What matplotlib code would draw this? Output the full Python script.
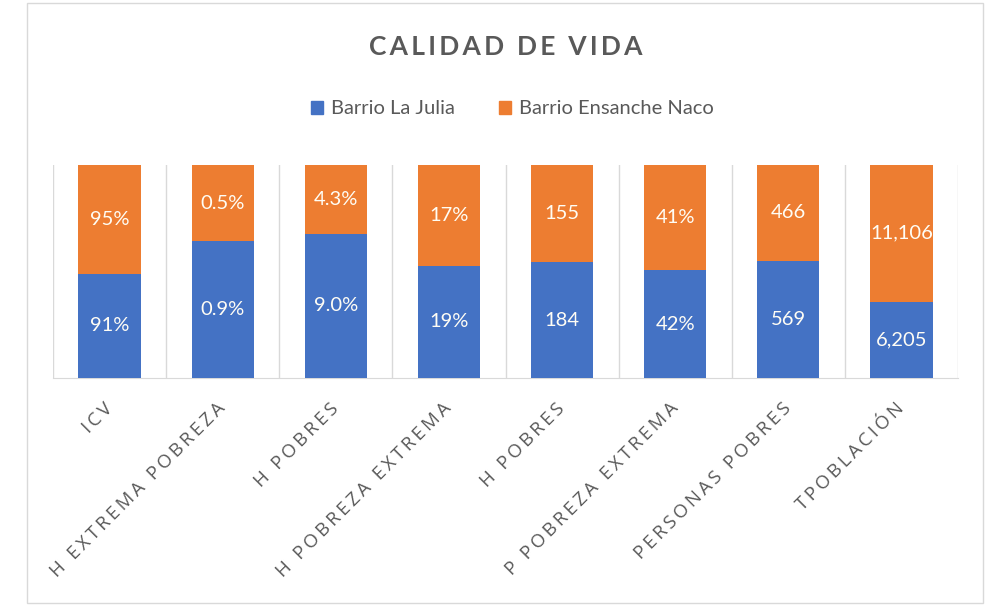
import numpy as np
import matplotlib
matplotlib.use("Agg")
import matplotlib.pyplot as plt
from matplotlib.patches import Rectangle, Patch

# categories and values
categorias = ["ICV", "H EXTREMA POBREZA", "H POBRES", "H POBREZA EXTREMA",
              "H POBRES", "P POBREZA EXTREMA", "PERSONAS POBRES", "TPOBLACIÓN"]
la_julia = [91, 0.9, 9.0, 19, 184, 42, 569, 6205]
ensanche_naco = [95, 0.5, 4.3, 17, 155, 41, 466, 11106]
formatos = ["{:.0f}%", "{:.1f}%", "{:.1f}%", "{:.0f}%", "{:,.0f}", "{:.0f}%", "{:,.0f}", "{:,.0f}"]

azul = "#4472C4"
naranja = "#ED7D31"
gris = "#595959"

plt.rcParams["font.family"] = ["Lato", "DejaVu Sans"]


def espaciado(s, sep="\u2009"):
    # letter spacing like the Excel axis labels
    return sep.join(s)


julia = np.array(la_julia, dtype=float)
naco = np.array(ensanche_naco, dtype=float)
total = julia + naco
p_julia = julia / total
p_naco = naco / total
x = np.arange(len(categorias))

fig = plt.figure(figsize=(9.89, 6.06), dpi=100)
ax = fig.add_axes([53 / 989, 1 - 378 / 606, 905 / 989, 213 / 606])

ancho = 0.55
ax.bar(x, p_julia, width=ancho, color=azul, zorder=3)
ax.bar(x, p_naco, bottom=p_julia, width=ancho, color=naranja, zorder=3)

for i in range(len(x)):
    ax.text(x[i], p_julia[i] / 2, formatos[i].format(julia[i]), ha="center", va="center",
            color="#FFFDF5", fontsize=14.5, zorder=4)
    ax.text(x[i], p_julia[i] + p_naco[i] / 2, formatos[i].format(naco[i]), ha="center",
            va="center", color="#FFFDF5", fontsize=14.5, zorder=4)

ax.set_xlim(-0.5, len(x) - 0.5)
ax.set_ylim(0, 1)
ax.set_yticks([])
ax.set_xticks(x)
ax.set_xticklabels([espaciado(c) for c in categorias], rotation=45, ha="right",
                   va="center", rotation_mode="anchor", fontsize=13.5, color=gris,
                   family=["Open Sans", "DejaVu Sans"])
ax.tick_params(axis="x", length=0, pad=20)
ax.set_xticks(np.arange(-0.5, len(x)), minor=True)
ax.tick_params(axis="x", which="minor", length=0)
ax.grid(which="minor", axis="x", color="#D9D9D9", linewidth=1, zorder=0)
for s in ["top", "left", "right"]:
    ax.spines[s].set_visible(False)
ax.spines["bottom"].set_color("#D9D9D9")

fig.text(0.511, 1 - 47 / 606, espaciado("CALIDAD DE VIDA"), ha="center", va="center",
         fontsize=19, fontweight="bold", color=gris)

fig.legend(handles=[Patch(color=azul, label="Barrio La Julia"),
                    Patch(color=naranja, label="Barrio Ensanche Naco")],
           loc="center", bbox_to_anchor=(0.518, 1 - 109 / 606), ncol=2, frameon=False,
           fontsize=14.5, handlelength=0.6, handleheight=0.6, handletextpad=0.4,
           columnspacing=2.2, labelcolor=gris)

fig.patches.append(Rectangle((27 / 989, 3 / 606), 956 / 989, 600 / 606, transform=fig.transFigure,
                             fill=False, edgecolor="#D9D9D9", linewidth=1))

fig.savefig("out.png", dpi=100)
